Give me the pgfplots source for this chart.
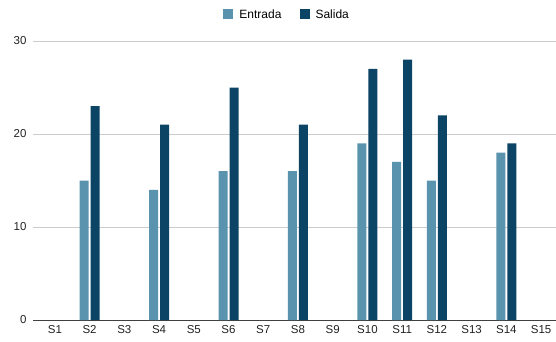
\documentclass[border=0pt]{standalone}
\usepackage{pgfplots}
\pgfplotsset{compat=1.18}
\usepackage{fontspec}
\setmainfont{Liberation Sans}
\definecolor{entrada}{HTML}{5A93AD}
\definecolor{salida}{HTML}{0B4464}
\definecolor{gridc}{HTML}{CCCCCC}
\definecolor{txt}{HTML}{222222}
\begin{document}
\begin{tikzpicture}[x=1pt,y=1pt]
\path[use as bounding box] (-33,-21) rectangle (523,320);
\begin{axis}[
  at={(0,0)}, anchor=south west,
  scale only axis, width=523pt, height=279pt,
  xmin=-0.63, xmax=14.43,
  ymin=0, ymax=30,
  ytick={0,10,20,30},
  xtick={0,...,14},
  xticklabels={S1,S2,S3,S4,S5,S6,S7,S8,S9,S10,S11,S12,S13,S14,S15},
  ybar=2pt, bar width=9pt,
  axis x line*=bottom, axis y line*=left,
  x axis line style={draw=black!75, line width=0.8pt, -},
  y axis line style={draw=none},
  ymajorgrids, grid style={gridc, line width=0.6pt},
  major tick length=0pt,
  tick label style={font=\fontsize{11.5}{13}\selectfont, text=txt},
  yticklabel style={xshift=-3pt},
  xticklabel style={yshift=-2pt},
  /pgf/number format/assume math mode=true,
  legend style={at={(0.486,1.095)}, anchor=center, draw=none, fill=none,
    legend columns=2, font=\fontsize{12}{14}\selectfont,
    /tikz/every odd column/.append style={column sep=4pt},
    /tikz/every even column/.append style={column sep=16pt}},
  legend image code/.code={\fill[#1] (0pt,-5pt) rectangle (10pt,5pt);},
  clip=false,
]
\addplot[fill=entrada, draw=none] coordinates {
  (1,15) (3,14) (5,16) (7,16) (9,19) (10,17) (11,15) (13,18)};
\addplot[fill=salida, draw=none] coordinates {
  (1,23) (3,21) (5,25) (7,21) (9,27) (10,28) (11,22) (13,19)};
\legend{Entrada,Salida}
\end{axis}
\end{tikzpicture}
\end{document}
